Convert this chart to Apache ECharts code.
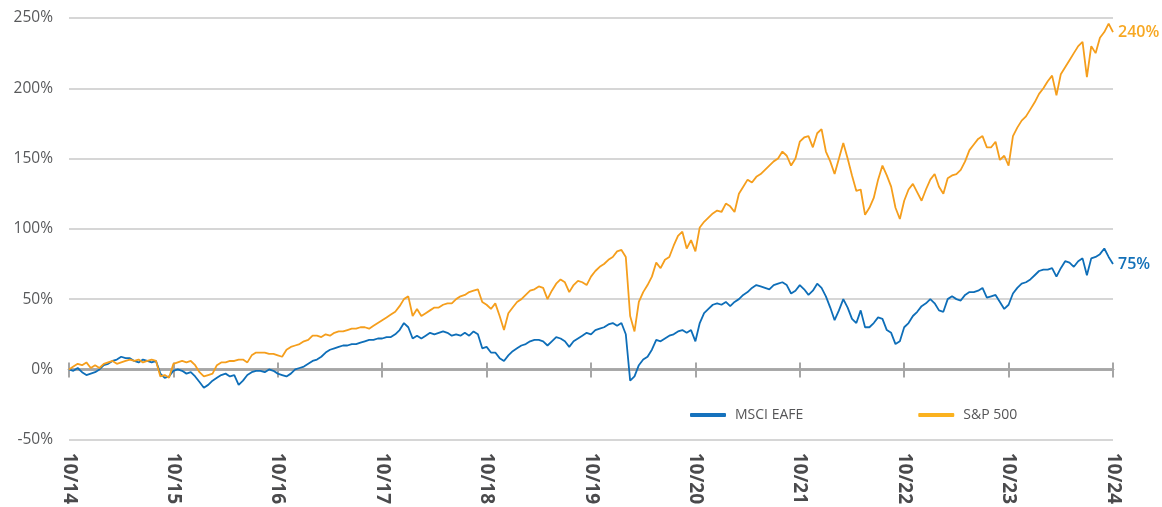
<!DOCTYPE html>
<html>
<head>
<meta charset="utf-8">
<script src="https://cdn.jsdelivr.net/npm/echarts@6/dist/echarts.min.js"></script>
<style>
  html, body { margin: 0; padding: 0; background: #fff; }
  #chart { width: 1162px; height: 507px; }
</style>
</head>
<body>
<div id="chart"></div>
<script>
// semi-monthly readings, 10/14 .. 10/24 (cumulative return, %)
var sp500 = [
  0, 2, 4, 3, 5, 1, 3, 1, 4, 5, 6, 4, 5, 6, 7, 6, 7, 5, 6, 7, 6, -5, -4, -6,
  4, 5, 6, 5, 6, 3, -2, -5, -4, -3, 3, 5, 5, 6, 6, 7, 7, 5, 10, 12, 12, 12, 11, 11,
  10, 9, 14, 16, 17, 18, 20, 21, 24, 24, 23, 25, 24, 26, 27, 27, 28, 29, 29, 30, 30, 29, 31, 33,
  35, 37, 39, 41, 45, 50, 52, 38, 43, 38, 40, 42, 44, 44, 46, 47, 47, 50, 52, 53, 55, 56, 57, 48,
  46, 43, 47, 38, 28, 40, 44, 48, 50, 53, 56, 57, 59, 58, 50, 56, 61, 64, 62, 55, 60, 63, 62, 60,
  66, 70, 73, 75, 78, 80, 84, 85, 80, 38, 27, 48, 55, 60, 66, 76, 72, 78, 80, 88, 95, 98, 86, 92,
  84, 101, 105, 108, 111, 113, 112, 118, 116, 112, 125, 130, 135, 133, 137, 139, 142, 145, 148, 150, 155, 152, 145, 150,
  162, 165, 166, 158, 168, 171, 155, 148, 139, 150, 161, 150, 138, 127, 128, 110, 115, 122, 135, 145, 138, 130, 115, 107,
  120, 128, 132, 126, 120, 128, 135, 139, 130, 125, 136, 138, 139, 142, 148, 156, 160, 164, 166, 158, 158, 162, 149, 152,
  145, 166, 172, 177, 180, 185, 190, 196, 200, 205, 209, 195, 210, 215, 220, 225, 230, 233, 208, 230, 225, 236, 240, 246,
  240
];
var eafe = [
  0, -1, 1, -2, -4, -3, -2, 0, 3, 4, 6, 7, 9, 8, 8, 6, 5, 7, 6, 5, 6, -3, -6, -5,
  -1, 0, -1, -3, -2, -5, -9, -13, -11, -8, -6, -4, -3, -5, -4, -11, -8, -4, -2, -1, -1, -2, 0, -1,
  -3, -4, -5, -3, 0, 1, 2, 4, 6, 7, 9, 12, 14, 15, 16, 17, 17, 18, 18, 19, 20, 21, 21, 22,
  22, 23, 23, 25, 28, 33, 30, 22, 24, 22, 24, 26, 25, 26, 27, 26, 24, 25, 24, 26, 24, 27, 25, 15,
  16, 12, 12, 8, 6, 10, 13, 15, 17, 18, 20, 21, 21, 20, 17, 20, 23, 22, 20, 16, 20, 22, 24, 26,
  25, 28, 29, 30, 32, 33, 31, 33, 25, -8, -5, 3, 7, 9, 14, 21, 20, 22, 24, 25, 27, 28, 26, 28,
  20, 33, 40, 43, 46, 47, 46, 48, 45, 48, 50, 53, 55, 58, 60, 59, 58, 57, 60, 61, 62, 60, 54, 56,
  60, 57, 53, 56, 61, 58, 52, 44, 35, 42, 50, 44, 36, 33, 42, 30, 30, 33, 37, 36, 28, 26, 18, 20,
  30, 33, 38, 41, 45, 47, 50, 47, 42, 41, 50, 52, 50, 49, 53, 55, 55, 56, 58, 51, 52, 53, 48, 43,
  46, 54, 58, 61, 62, 64, 67, 70, 71, 71, 72, 66, 72, 77, 76, 73, 77, 79, 67, 79, 80, 82, 86, 80,
  75
];
var yTicks = [-50, 0, 50, 100, 150, 200, 250];

// category per half month starting Oct 2014
var dates = [];
for (var k = 0; k < sp500.length; k++) {
  var mi = 9 + Math.floor(k / 2);
  var yr = 2014 + Math.floor(mi / 12);
  dates.push((mi % 12 + 1) + '/' + (k % 2 ? 15 : 1) + '/' + yr);
}

var chart = echarts.init(document.getElementById('chart'));

var gray = '#a6a6a6';
var baseX = {
  type: 'category',
  data: dates,
  boundaryGap: false,
  splitLine: { show: false },
  axisLabel: { show: false }
};
var baseY = {
  type: 'value',
  min: yTicks[0],
  max: yTicks[yTicks.length - 1],
  interval: 50,
  axisLine: { show: false },
  axisTick: { show: false }
};

var option = {
  animation: false,
  grid: { left: 69, right: 49, top: 18, bottom: 67, containLabel: false },
  legend: {
    left: 690,
    top: 408,
    padding: 0,
    itemWidth: 36,
    itemHeight: 4,
    itemGap: 115,
    icon: 'roundRect',
    textStyle: {
      fontFamily: 'Open Sans, sans-serif',
      fontSize: 14,
      color: '#555557',
      padding: [0, 0, 0, 4]
    },
    data: [
      { name: 'MSCI EAFE', itemStyle: { color: '#1672bd' } },
      { name: 'S&P 500', itemStyle: { color: '#fbb21f' } }
    ]
  },
  xAxis: [
    Object.assign({}, baseX, {
      position: 'bottom',
      axisLine: { show: true, onZero: true, onZeroAxisIndex: 0, lineStyle: { color: gray, width: 2.5 } },
      axisTick: { show: true, inside: true, length: 7, interval: 23, lineStyle: { color: gray, width: 2 } }
    }),
    Object.assign({}, baseX, {
      position: 'bottom',
      axisLine: { show: true, onZero: true, onZeroAxisIndex: 1, lineStyle: { color: gray, width: 2.5 } },
      axisTick: { show: true, inside: false, length: 8, interval: 23, lineStyle: { color: gray, width: 2 } }
    }),
    Object.assign({}, baseX, {
      position: 'bottom',
      axisLine: { show: false, onZero: false },
      axisTick: { show: false },
      axisLabel: {
        show: true,
        interval: 23,
        rotate: -90,
        margin: 13,
        fontFamily: 'Open Sans, sans-serif',
        fontSize: 19,
        fontWeight: 'bold',
        color: '#4a4a4c',
        formatter: function (v) {
          var p = v.split('/');
          return (p[0].length < 2 ? '0' + p[0] : p[0]) + '/' + p[2].slice(2);
        }
      }
    })
  ],
  yAxis: [
    Object.assign({}, baseY, {
      axisLabel: {
        formatter: '{value}%',
        margin: 16,
        fontFamily: 'Open Sans, sans-serif',
        fontSize: 15.5,
        color: '#58595b'
      },
      splitLine: { lineStyle: { color: '#d6d6d6', width: 2 } }
    }),
    Object.assign({}, baseY, {
      position: 'left',
      axisLabel: { show: false },
      splitLine: { show: false }
    })
  ],
  series: [
    {
      name: 'MSCI EAFE',
      type: 'line',
      xAxisIndex: 0,
      data: eafe,
      symbol: 'none',
      color: '#0e6eb8',
      lineStyle: { width: 1.8, color: '#0e6eb8' },
      endLabel: {
        show: true,
        distance: 5,
        formatter: function (p) { return p.value + '%'; },
        fontFamily: 'Open Sans, sans-serif',
        fontSize: 16,
        fontWeight: 600,
        color: '#1270b8'
      }
    },
    {
      name: 'S&P 500',
      type: 'line',
      xAxisIndex: 0,
      data: sp500,
      symbol: 'none',
      color: '#f59e1c',
      lineStyle: { width: 1.8, color: '#f59e1c' },
      endLabel: {
        show: true,
        distance: 5,
        formatter: function (p) { return p.value + '%'; },
        fontFamily: 'Open Sans, sans-serif',
        fontSize: 16,
        fontWeight: 600,
        color: '#f7a823'
      }
    }
  ]
};

chart.setOption(option);
</script>
</body>
</html>
